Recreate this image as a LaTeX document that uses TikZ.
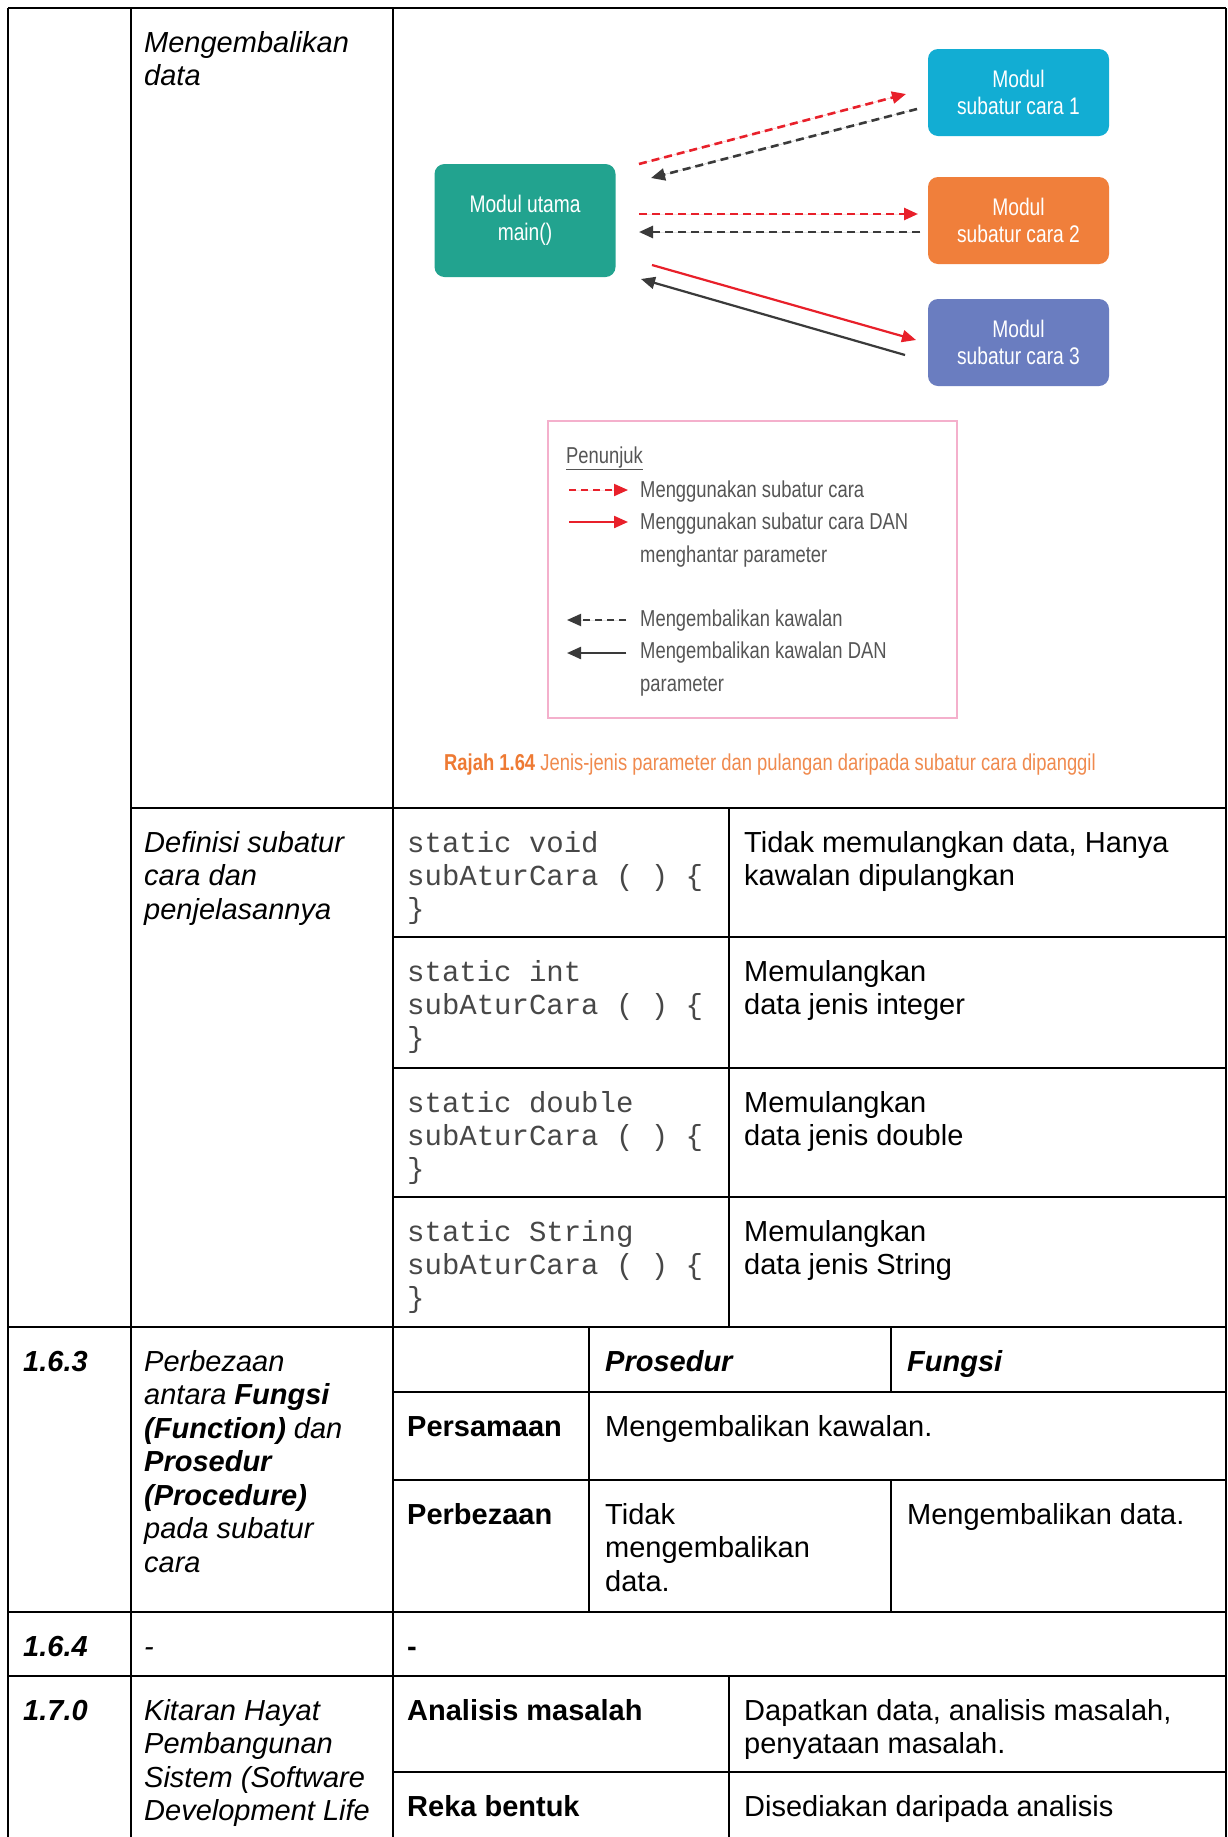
\documentclass[tikz,border=0pt]{standalone}
\usepackage{fontspec}
\setmainfont{Liberation Sans}
\setmonofont{Liberation Mono}
\newfontfamily\condfont{Liberation Sans}[FakeStretch=0.8]
\usetikzlibrary{arrows.meta}

\definecolor{tealbox}{HTML}{22A38F}
\definecolor{cyanbox}{HTML}{12ADD3}
\definecolor{orangebox}{HTML}{F07F3B}
\definecolor{bluebox}{HTML}{6A7DC0}
\definecolor{callred}{HTML}{E8202A}
\definecolor{retdark}{HTML}{3A3A3A}
\definecolor{legendpink}{HTML}{F4B0CC}
\definecolor{legendgray}{HTML}{555555}
\definecolor{capcolor}{HTML}{F08A4E}
\definecolor{capbold}{HTML}{EE7A33}

\tikzset{
  grid/.style={line width=2.7pt, black},
  txt/.style={anchor=north west, inner sep=0pt, align=left, yshift=23.45pt,
              font=\fontsize{29}{33.5}\selectfont},
  itxt/.style={txt, font=\fontsize{29}{33.5}\selectfont\itshape},
  btxt/.style={txt, font=\fontsize{29}{33.5}\selectfont\bfseries},
  bitxt/.style={txt, font=\fontsize{29}{33.5}\selectfont\bfseries\itshape},
  codetxt/.style={anchor=north west, inner sep=0pt, align=left, yshift=23.1pt,
              font=\ttfamily\fontsize{29}{33}\selectfont, text=black!72},
  modbox/.style={rounded corners=10pt, inner sep=0pt, text=white, align=center,
              minimum width=181pt, font=\condfont\fontsize{24}{27.5}\selectfont},
  tip/.style={-{Triangle[length=14pt,width=12pt]}},
  calldash/.style={tip, draw=callred, fill=callred, line width=2.6pt, dash pattern=on 8pt off 5pt},
  retdash/.style={tip, draw=retdark, fill=retdark, line width=2.6pt, dash pattern=on 8pt off 5pt},
  callsolid/.style={tip, draw=callred, fill=callred, line width=2.2pt},
  retsolid/.style={tip, draw=retdark, fill=retdark, line width=2.2pt},
  legtxt/.style={anchor=base west, inner sep=0pt, text=legendgray,
              font=\condfont\fontsize{23}{27}\selectfont},
}

\begin{document}
\begin{tikzpicture}[x=1pt, y=-1pt]
\useasboundingbox (0,0) rectangle (1227,1837);
\fill[white] (0,0) rectangle (1227,1837);

% ---------- table rules ----------
\draw[grid] (8,8) -- (1226,8);
\draw[grid] (131,808) -- (1226,808);
\draw[grid] (393,937) -- (1226,937);
\draw[grid] (393,1068) -- (1226,1068);
\draw[grid] (393,1197) -- (1226,1197);
\draw[grid] (8,1327) -- (1226,1327);
\draw[grid] (393,1392) -- (1226,1392);
\draw[grid] (393,1480) -- (1226,1480);
\draw[grid] (8,1612) -- (1226,1612);
\draw[grid] (8,1676) -- (1226,1676);
\draw[grid] (393,1772) -- (1226,1772);

\draw[grid] (8,8) -- (8,1837);
\draw[grid] (131,8) -- (131,1837);
\draw[grid] (393,8) -- (393,1837);
\draw[grid] (729,808) -- (729,1327);
\draw[grid] (729,1676) -- (729,1837);
\draw[grid] (589,1327) -- (589,1612);
\draw[grid] (891,1327) -- (891,1392);
\draw[grid] (891,1480) -- (891,1612);
\draw[grid] (1226,8) -- (1226,1837);

% ---------- calling diagram ----------
\node[modbox, fill=tealbox, minimum height=113pt] (main) at (525,220.5) {Modul utama\\main()};
\node[modbox, fill=cyanbox, minimum height=87pt] (sub1) at (1018.5,92.5) {Modul\\subatur cara 1};
\node[modbox, fill=orangebox, minimum height=87pt] (sub2) at (1018.5,220.5) {Modul\\subatur cara 2};
\node[modbox, fill=bluebox, minimum height=87pt] (sub3) at (1018.5,342.5) {Modul\\subatur cara 3};

\coordinate (c1a) at (639,164);  \coordinate (c1b) at (906,94);
\coordinate (r1a) at (917,109);  \coordinate (r1b) at (651,178);
\coordinate (c2a) at (639,214);  \coordinate (c2b) at (918,214);
\coordinate (r2a) at (920,232);  \coordinate (r2b) at (639,232);
\coordinate (c3a) at (652,265);  \coordinate (c3b) at (916,340);
\coordinate (r3a) at (905,355);  \coordinate (r3b) at (641,279);

\draw[calldash] (c1a) -- (c1b);
\draw[retdash] (r1a) -- (r1b);
\draw[calldash] (c2a) -- (c2b);
\draw[retdash] (r2a) -- (r2b);
\draw[callsolid] (c3a) -- (c3b);
\draw[retsolid] (r3a) -- (r3b);

% legend
\draw[legendpink, line width=2pt] (548,421) rectangle (957,718);
\node[legtxt] (pen) at (566,463) {\underline{Penunjuk}};
\coordinate (l1a) at (569,490); \coordinate (l1b) at (628,490);
\coordinate (l2a) at (569,522); \coordinate (l2b) at (628,522);
\coordinate (l3a) at (626,620); \coordinate (l3b) at (567,620);
\coordinate (l4a) at (626,653); \coordinate (l4b) at (567,653);
\draw[calldash, line width=2pt, dash pattern=on 7pt off 5pt] (l1a) -- (l1b);
\draw[callsolid] (l2a) -- (l2b);
\draw[retdash, line width=2pt, dash pattern=on 7pt off 5pt] (l3a) -- (l3b);
\draw[retsolid] (l4a) -- (l4b);
\node[legtxt] (lg1) at (640,497) {Menggunakan subatur cara};
\node[legtxt] (lg2) at (640,529) {Menggunakan subatur cara DAN};
\node[legtxt] (lg3) at (640,562) {menghantar parameter};
\node[legtxt] (lg4) at (640,626) {Mengembalikan kawalan};
\node[legtxt] (lg5) at (640,658) {Mengembalikan kawalan DAN};
\node[legtxt] (lg6) at (640,691) {parameter};

\node[anchor=base west, inner sep=0pt, text=capcolor,
      font=\condfont\fontsize{23}{27}\selectfont] (cap) at (444,770)
  {\textcolor{capbold}{\bfseries Rajah 1.64} Jenis-jenis parameter dan pulangan daripada subatur cara dipanggil};

% ---------- table text ----------
\node[itxt] (t0) at (144,52) {\strut Mengembalikan\\data};

\node[itxt] (d0) at (144,852) {\strut Definisi subatur\\cara dan\\penjelasannya};
\node[codetxt] (k1) at (407,852) {\strut static void\\subAturCara ( ) \{\\\}};
\node[txt] (e1) at (744,852) {\strut Tidak memulangkan data, Hanya\\kawalan dipulangkan};
\node[codetxt] (k2) at (407,981) {\strut static int\\subAturCara ( ) \{\\\}};
\node[txt] (e2) at (744,981) {\strut Memulangkan\\data jenis integer};
\node[codetxt] (k3) at (407,1112) {\strut static double\\subAturCara ( ) \{\\\}};
\node[txt] (e3) at (744,1112) {\strut Memulangkan\\data jenis double};
\node[codetxt] (k4) at (407,1241) {\strut static String\\subAturCara ( ) \{\\\}};
\node[txt] (e4) at (744,1241) {\strut Memulangkan\\data jenis String};

\node[bitxt] (n163) at (23,1371) {\strut 1.6.3};
\node[itxt] (f163) at (144,1371) {\strut Perbezaan\\antara \textbf{Fungsi}\\\textbf{(Function)} dan\\\textbf{Prosedur}\\\textbf{(Procedure)}\\pada subatur\\cara};
\node[bitxt] (hpro) at (605,1371) {\strut Prosedur};
\node[bitxt] (hfun) at (907,1371) {\strut Fungsi};
\node[btxt] (psm) at (407,1436) {\strut Persamaan};
\node[txt] (psmv) at (605,1436) {\strut Mengembalikan kawalan.};
\node[btxt] (pbz) at (407,1524) {\strut Perbezaan};
\node[txt] (pbzp) at (605,1524) {\strut Tidak\\mengembalikan\\data.};
\node[txt] (pbzf) at (907,1524) {\strut Mengembalikan data.};

\node[bitxt] (n164) at (23,1656) {\strut 1.6.4};
\node[itxt] (f164) at (144,1656) {\strut -};
\node[btxt] (g164) at (407,1656) {\strut -};

\node[bitxt] (n170) at (23,1720) {\strut 1.7.0};
\node[itxt] (f170) at (144,1720) {\strut Kitaran Hayat\\Pembangunan\\Sistem (Software\\Development Life};
\node[btxt] (ana) at (407,1720) {\strut Analisis masalah};
\node[txt] (anav) at (744,1720) {\strut Dapatkan data, analisis masalah,\\penyataan masalah.};
\node[btxt] (reka) at (407,1816) {\strut Reka bentuk};
\node[txt] (rekav) at (744,1816) {\strut Disediakan daripada analisis};
\end{tikzpicture}
\end{document}
